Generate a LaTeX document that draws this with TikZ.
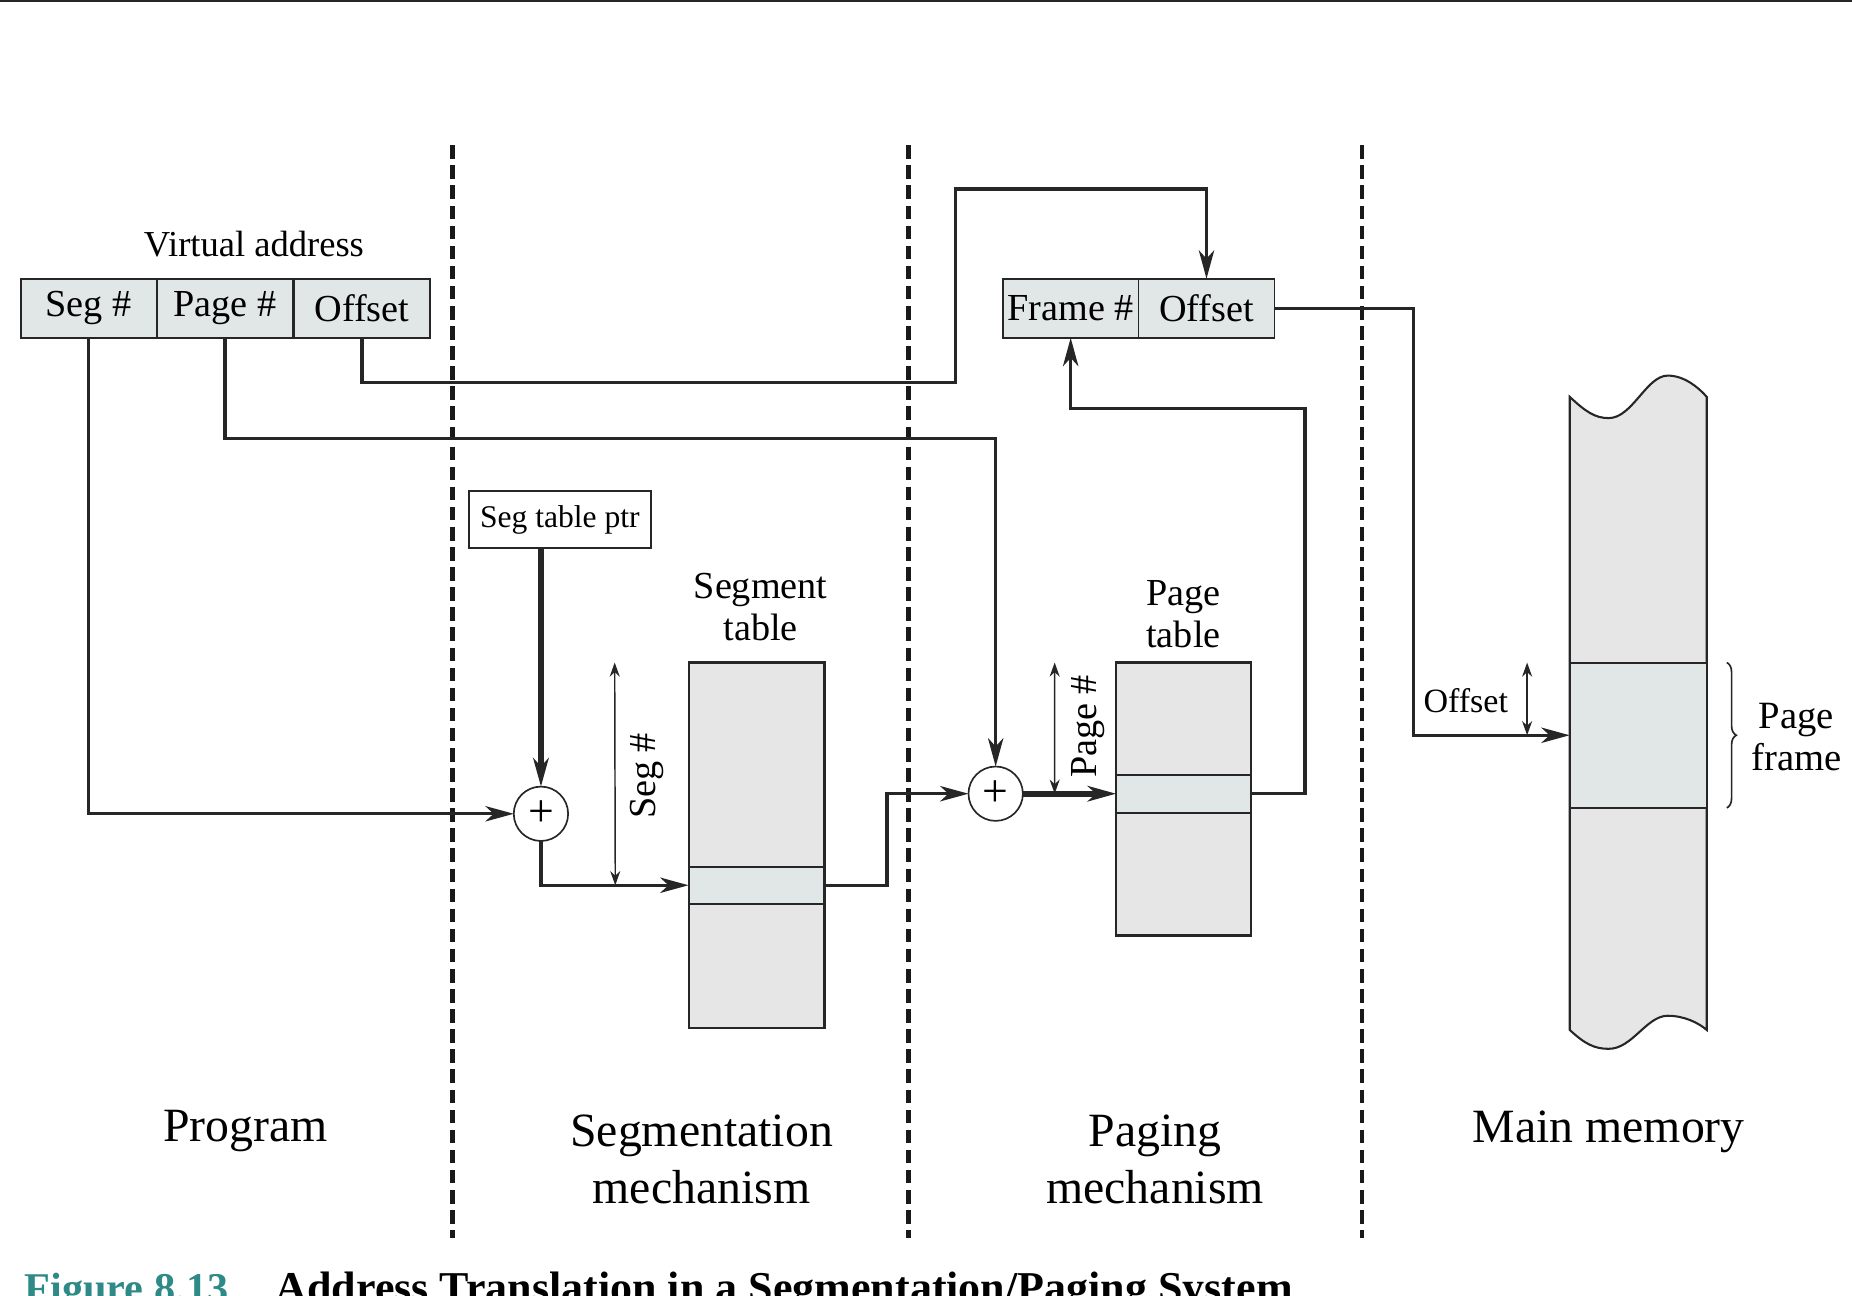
\documentclass[tikz,border=0pt]{standalone}
\usepackage{fontspec}
\setmainfont{Liberation Serif}
\usetikzlibrary{arrows.meta,decorations.pathreplacing}
\definecolor{fieldgray}{HTML}{E1E6E6}
\definecolor{tablegray}{HTML}{E6E6E6}
\definecolor{linegray}{HTML}{262626}
\definecolor{figteal}{HTML}{2E8A86}
\begin{document}
\begin{tikzpicture}[x=0.01cm, y=-0.01cm,
    field/.style={draw=linegray, line width=0.45pt, fill=fieldgray, minimum width=1.15cm, minimum height=0.5cm, inner sep=0pt, outer sep=0pt, font=\fontsize{9.2}{10.2}\selectfont},
    tablebox/.style={draw=linegray, line width=0.5pt, fill=tablegray, inner sep=0pt, outer sep=0pt},
    rowbox/.style={draw=linegray, line width=0.5pt, fill=fieldgray, inner sep=0pt, outer sep=0pt},
    adder/.style={circle, draw=linegray, line width=0.4pt, fill=white, minimum size=0.46cm, inner sep=0pt, outer sep=0pt, font=\fontsize{11}{11}\selectfont},
    conn/.style={draw=linegray, line width=0.8pt, -{Stealth[length=2.4mm, width=1.3mm, inset=0.7mm]}},
    measure/.style={draw=linegray, line width=0.35pt, {Stealth[length=1.2mm, width=0.85mm]}-{Stealth[length=1.2mm, width=0.85mm]}},
    divider/.style={draw=black!90, line width=1.1pt, dash pattern=on 1.15mm off 0.55mm},
    tabletitle/.style={font=\fontsize{9.2}{10.2}\selectfont, align=center, inner sep=0pt},
    mechlabel/.style={font=\fontsize{11.5}{13.7}\selectfont, align=center, inner sep=0pt}
  ]
  \useasboundingbox (0,0) rectangle (1568,1097);
  \clip (0,0) rectangle (1568,1097);
  % top rule
  \draw[line width=0.6pt, draw=linegray] (0,1) -- (1568,1);
  % dashed dividers
  \foreach \x in {383,769,1153} {
    \draw[divider] (\x,123) -- (\x,1048);
  }
  % region labels
  \node[mechlabel] (prog) at (208,958) {Program};
  \node[mechlabel] (segmech) at (594,982) {Segmentation\\mechanism};
  \node[mechlabel] (pagmech) at (978,982) {Paging\\mechanism};
  \node[mechlabel] (mainmem) at (1362,958) {Main memory};
  % virtual address
  \node[tabletitle, font=\fontsize{8.8}{10}\selectfont] (vatitle) at (215,207) {Virtual address};
  \foreach \n/\x/\t in {seg/75/Seg \#, page/190.5/Page \#, off/306.5/Offset} {
    \node[field] (\n) at (\x,261) {\t};
  }
  % real address
  \foreach \n/\x/\t in {frame/906.5/Frame \#, foff/1021.5/Offset} {
    \node[field] (\n) at (\x,261) {\t};
  }
  % segmentation mechanism
  \node[draw=linegray, line width=0.45pt, minimum width=1.54cm, minimum height=0.48cm, inner sep=0pt, outer sep=0pt, font=\fontsize{7.6}{8}\selectfont] (ptr) at (474,440) {Seg table ptr};
  \node[adder] (add1) at (458,689) {+};
  \node[tabletitle] (segtitle) at (644,514) {Segment\\table};
  \node[tablebox, minimum width=1.15cm, minimum height=3.09cm] (segtab) at (640.5,715.5) {};
  \node[rowbox, minimum width=1.15cm, minimum height=0.31cm] (segrow) at (640.5,749.5) {};
  \draw[measure] ([xshift=-1.2cm]segtab.north) -- ([xshift=-0.62cm]segrow.west);
  \node[tabletitle, rotate=90] (segnum) at (548,657) {Seg \#};
  % paging mechanism
  \node[adder] (add2) at (843,672) {+};
  \node[tabletitle] (pagetitle) at (1002,520) {Page\\table};
  \node[tablebox, minimum width=1.14cm, minimum height=2.31cm] (pagetab) at (1002,676.5) {};
  \node[rowbox, minimum width=1.14cm, minimum height=0.32cm] (pagerow) at (1002,672) {};
  \draw[measure] ([xshift=-1.09cm]pagetab.north) -- ([xshift=-0.52cm]pagerow.west);
  \node[tabletitle, rotate=90] (pagenum) at (921,615) {Page \#};
  % main memory
  \draw[tablebox] (1329,336) .. controls (1342,348) and (1350,354) .. (1362,354)
    .. controls (1382,354) and (1394,318) .. (1412,318)
    .. controls (1426,318) and (1438,328) .. (1445,336) -- (1445,872)
    .. controls (1438,866) and (1426,860) .. (1412,860)
    .. controls (1394,860) and (1382,888) .. (1362,888)
    .. controls (1350,888) and (1342,884) .. (1329,872) -- cycle;
  \node[rowbox, minimum width=1.16cm, minimum height=1.23cm] (memrow) at (1387,622.5) {};
  \draw[decorate, decoration={brace, amplitude=0.8mm}, line width=0.4pt, draw=linegray]
    ([xshift=1.7mm]memrow.north east) -- ([xshift=1.7mm]memrow.south east);
  \node[tabletitle, font=\fontsize{9.3}{10.2}\selectfont] (pftitle) at (1521,624) {Page\\frame};
  \node[tabletitle, font=\fontsize{8.2}{9}\selectfont] (memoff) at (1241,593) {Offset};
  \draw[measure] ([xshift=-0.94cm]memrow.north) -- ([xshift=-0.94cm]memrow.center);
  % bend points
  \coordinate (obend) at (809,160);
  \coordinate (fbend) at (1105,346);
  % connectors
  \draw[conn] (seg.south) |- (add1.west);
  \draw[conn] (page.south) -- ++(0,85) -| (add2.north);
  \draw[conn] (off.south) -- ++(0,38) -| (obend) -| (foff.north);
  \draw[conn, line width=1.3pt] (add1.north |- ptr.south) -- (add1.north);
  \draw[conn] (add1.south) |- (segrow.west);
  \draw[conn] (segrow.east) -- ++(53,0) |- (add2.west);
  \draw[conn, line width=1.5pt] (add2.east) -- (pagerow.west);
  \draw[conn] (pagerow.east) -| (fbend) -| (frame.south);
  \draw[conn] (foff.east) -| ([xshift=-1.32cm]memrow.west) -- (memrow.west);
  % caption
  \node[anchor=base west, inner sep=0pt, font=\fontsize{10.2}{12}\selectfont\bfseries] (caption) at (20,1103)
    {\textcolor{figteal}{Figure 8.13}\hspace{0.4cm}{\fontsize{10.6}{12}\selectfont Address Translation in a Segmentation/Paging System}};
\end{tikzpicture}
\end{document}
